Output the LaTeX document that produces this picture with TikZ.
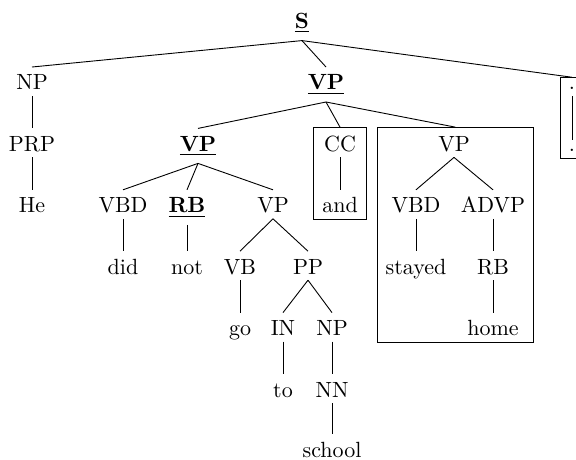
\documentclass[tikz,border=0pt]{standalone}
\usetikzlibrary{fit}
\tikzset{
  lbl/.style={anchor=base, scale=2.2, inner xsep=0pt, inner ysep=0pt, outer sep=0pt, text height=10.45pt, text depth=2.73pt, font=\fontsize{10}{12}\selectfont},
  lblu/.style={lbl, text depth=5.45pt},
  lbld/.style={lbl, text height=5.23pt},
  lblend/.style={lbl, text depth=0pt},
  frame/.style={draw, line width=0.9pt, inner xsep=8.5pt, inner ysep=0.8pt},
  edge/.style={line width=0.9pt},
}
\newcommand{\ulb}[1]{\underline{\textbf{#1}}}
\begin{document}
\begin{tikzpicture}[x=1pt,y=-1pt]
\clip (0,0) rectangle (576,460);
% row baselines: 28.6 + 61.4 k
\node[lblu] (S) at (302,28.6) {\ulb{S}};
% left NP
\node[lbl] (NP) at (32,90) {NP};
\node[lbl] (PRP) at (32,151.4) {PRP};
\node[lbl] (He) at (32,212.8) {He};
% main VP
\node[lblu] (VP1) at (326,90) {\ulb{VP}};
% punctuation
\node[lbld] (dot1) at (572,90) {.};
\node[lbld] (dot2) at (572,151.4) {.};
% VP (did not go ...)
\node[lblu] (VP2) at (198,151.4) {\ulb{VP}};
\node[lbl] (VBD) at (123,212.8) {VBD};
\node[lbl] (did) at (123,274.2) {did};
\node[lblu] (RB) at (187,212.8) {\ulb{RB}};
\node[lbl] (not) at (187,274.2) {not};
\node[lbl] (VP3) at (273,212.8) {VP};
\node[lbl] (VB) at (240,274.2) {VB};
\node[lbl] (go) at (240,335.6) {go};
\node[lbl] (PP) at (308,274.2) {PP};
\node[lbl] (IN) at (283,335.6) {IN};
\node[lbl] (to) at (283,397) {to};
\node[lbl] (NP2) at (332,335.6) {NP};
\node[lbl] (NN) at (332,397) {NN};
\node[lblend] (school) at (332,457) {school};
% CC
\node[lbl] (CC) at (340,151.4) {CC};
\node[lbl] (and) at (340,212.8) {and};
% boxed VP
\node[lbl] (VPb) at (454,151.4) {VP};
\node[lbl] (VBD2) at (416,212.8) {VBD};
\node[lbl] (stayed) at (416,274.2) {stayed};
\node[lbl] (ADVP) at (493,212.8) {ADVP};
\node[lbl] (RB2) at (493,274.2) {RB};
\node[lbl] (home) at (493,335.6) {home};
% frames
\node[frame, fit=(CC)(and)] (boxCC) {};
\node[frame, fit=(VPb)(VBD2)(ADVP)(stayed)(home)] (boxVP) {};
\node[frame, fit=(dot1)(dot2)] (boxDot) {};
% edges
\draw[edge] (S.south) -- (NP.north);
\draw[edge] (S.south) -- (VP1.north);
\draw[edge] (S.south) -- (boxDot.north);
\draw[edge] (NP.south) -- (PRP.north);
\draw[edge] (PRP.south) -- (He.north);
\draw[edge] (dot1.south) -- (dot2.north);
\draw[edge] (VP1.south) -- (VP2.north);
\draw[edge] (VP1.south) -- (boxCC.north);
\draw[edge] (VP1.south) -- (boxVP.north);
\draw[edge] (VP2.south) -- (VBD.north);
\draw[edge] (VP2.south) -- (RB.north);
\draw[edge] (VP2.south) -- (VP3.north);
\draw[edge] (VBD.south) -- (did.north);
\draw[edge] (RB.south) -- (not.north);
\draw[edge] (VP3.south) -- (VB.north);
\draw[edge] (VP3.south) -- (PP.north);
\draw[edge] (VB.south) -- (go.north);
\draw[edge] (PP.south) -- (IN.north);
\draw[edge] (PP.south) -- (NP2.north);
\draw[edge] (IN.south) -- (to.north);
\draw[edge] (NP2.south) -- (NN.north);
\draw[edge] (NN.south) -- (school.north);
\draw[edge] (CC.south) -- (and.north);
\draw[edge] (VPb.south) -- (VBD2.north);
\draw[edge] (VPb.south) -- (ADVP.north);
\draw[edge] (VBD2.south) -- (stayed.north);
\draw[edge] (ADVP.south) -- (RB2.north);
\draw[edge] (RB2.south) -- (home.north);
\end{tikzpicture}
\end{document}
